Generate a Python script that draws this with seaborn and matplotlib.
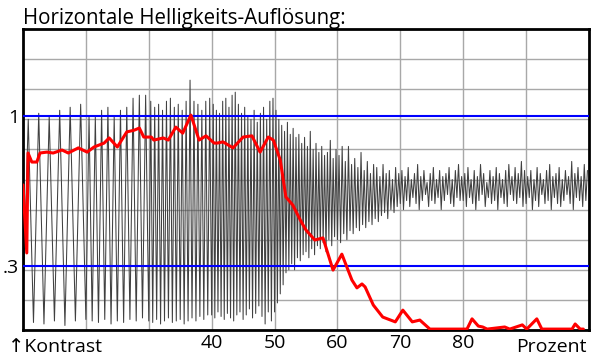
import numpy as np
import matplotlib
matplotlib.use("Agg")
import matplotlib.pyplot as plt
import seaborn as sns

# y axis is in grid units (0 = bottom frame, 10 = top frame)
segment_edges = [10, 20, 30, 40, 50, 60, 70, 80, 90, 100]
cycles_per_segment = [6, 10, 16, 20, 22, 20, 20, 20, 20]

gray_tops = [
    7.0, 7.2, 7.1, 7.3, 7.4, 7.5,
    7.1, 7.1, 7.3, 7.4, 7.1, 7.3, 7.4, 7.7, 7.8, 7.8,
    7.6, 7.4, 7.5, 7.3, 7.6, 7.7, 7.4, 7.5, 7.3, 7.6, 8.3, 7.6, 7.5, 7.3, 7.6, 7.7,
    7.5, 7.3, 7.2, 7.6, 7.7, 7.4, 7.8, 7.9, 7.5, 7.2, 7.4, 7.1, 7.0, 7.3, 6.9, 7.2, 7.4, 7.0, 7.6, 7.7,
    7.3, 7.0, 6.8, 6.6, 6.9, 6.5, 6.7, 6.4, 6.5, 6.2, 6.4, 6.1, 6.6, 6.0, 6.2, 5.9, 6.1, 5.8, 5.9, 6.3, 5.7, 6.0,
    5.8, 6.1, 5.6, 6.1, 5.5, 5.7, 5.4, 5.9, 5.3, 5.6, 5.2, 5.5, 5.4, 5.1, 5.5, 5.2, 5.3, 5.0, 5.4, 5.2,
    5.3, 5.1, 5.4, 5.0, 5.2, 5.5, 5.1, 5.3, 4.9, 5.2, 5.4, 5.0, 5.3, 5.1, 5.2, 5.4, 5.0, 5.3, 5.5, 5.1,
    5.2, 5.4, 5.0, 5.3, 5.1, 5.5, 5.2, 4.9, 5.3, 5.1, 5.4, 5.2, 5.0, 5.3, 5.5, 5.1, 5.4, 5.2, 5.6, 5.3,
    5.1, 5.3, 5.0, 5.4, 5.2, 5.0, 5.3, 5.5, 5.1, 5.2, 5.4, 5.0, 5.3, 5.1, 5.6, 5.2, 5.4, 5.1, 5.5, 5.3,
]
gray_bottoms = [
    0.9, 0.25, 0.2, 0.3, 0.15, 0.3,
    0.35, 0.3, 0.25, 0.35, 0.2, 0.3, 0.25, 0.35, 0.3, 0.4,
    0.3, 0.25, 0.35, 0.2, 0.3, 0.4, 0.25, 0.3, 0.35, 0.2, 0.3, 0.4, 0.3, 0.45, 0.35, 0.5,
    0.5, 0.4, 0.6, 0.45, 0.35, 0.55, 0.4, 0.3, 0.5, 0.6, 0.35, 0.5, 0.7, 0.4, 0.55, 0.8, 0.45, 0.2, 0.6, 0.3,
    0.6, 0.9, 1.2, 1.5, 1.9, 2.0, 2.2, 2.0, 2.4, 2.3, 2.5, 2.6, 2.4, 2.7, 2.5, 2.8, 2.7, 2.9, 2.6, 3.0, 2.8, 3.1,
    3.0, 2.9, 3.2, 3.0, 3.3, 3.2, 3.4, 3.3, 3.5, 3.4, 3.6, 3.5, 3.7, 3.6, 3.8, 3.9, 3.7, 4.0, 3.9, 4.1,
    4.2, 4.0, 4.3, 4.1, 4.4, 4.2, 4.0, 4.3, 4.5, 4.1, 4.3, 4.2, 4.4, 4.0, 4.3, 4.5, 4.2, 4.1, 4.4, 4.3,
    4.3, 4.1, 4.4, 4.2, 4.0, 4.3, 4.5, 4.1, 4.4, 4.2, 4.3, 4.0, 4.4, 4.2, 4.1, 4.5, 4.3, 4.2, 4.4, 4.1,
    4.2, 4.4, 4.0, 4.3, 4.1, 4.5, 4.2, 4.3, 4.0, 4.4, 4.2, 4.1, 4.3, 4.5, 4.2, 4.0, 4.4, 4.3, 4.1, 4.3,
]

red_x = [10.0, 10.6, 10.8, 11.4, 12.2, 12.7, 13.8, 14.8, 16.2, 17.2, 18.8, 20.2, 21.3, 22.9,
         23.7, 25.0, 26.5, 27.7, 28.5, 29.2, 30.4, 30.8, 32.3, 33.1, 34.3, 35.4, 36.7, 38.0,
         39.1, 40.4, 40.9, 41.8, 43.4, 45.0, 46.4, 47.7, 49.0, 49.8, 50.9, 51.8, 52.9, 54.1,
         55.0, 56.4, 57.7, 59.3, 60.7, 62.3, 63.1, 63.9, 64.4, 65.7, 67.2, 69.2, 70.4, 71.9,
         73.1, 74.7, 80.6, 81.4, 82.4, 83.1, 83.8, 86.6, 87.4, 89.4, 90.1, 91.7, 92.5, 97.3,
         97.8, 98.6, 99.1]
red_y = [4.82, 2.56, 5.88, 5.58, 5.58, 5.88, 5.91, 5.88, 5.98, 5.88, 6.05, 5.91, 6.08, 6.21,
         6.38, 6.08, 6.58, 6.64, 6.71, 6.41, 6.41, 6.31, 6.38, 6.31, 6.74, 6.54, 7.14, 6.31,
         6.45, 6.21, 6.21, 6.25, 6.05, 6.41, 6.45, 5.91, 6.41, 6.31, 5.65, 4.42, 4.15, 3.65,
         3.32, 2.99, 3.06, 1.99, 2.52, 1.66, 1.40, 1.53, 1.43, 0.83, 0.43, 0.27, 0.66, 0.27,
         0.33, 0.03, 0.03, 0.37, 0.13, 0.10, 0.03, 0.10, 0.03, 0.17, 0.03, 0.37, 0.03, 0.03,
         0.20, 0.03, 0.03]

ref_levels = [7.11, 2.13]
ref_labels = ["1", ".3"]
grid_x = [20, 30, 40, 50, 60, 70, 80, 90]
x_labels = ["", "", "40", "50", "60", "70", "80", ""]

# build zigzag of the gray sweep from per-cycle extremes
gx, gy = [], []
j = 0
for k, n in enumerate(cycles_per_segment):
    a, b = segment_edges[k], segment_edges[k + 1]
    period = (b - a) / n
    for i in range(n):
        gx += [a + i * period, a + (i + 0.5) * period]
        gy += [gray_bottoms[j], gray_tops[j]]
        j += 1

sns.set_style("white")
plt.rcParams["font.family"] = ["Open Sans", "DejaVu Sans"]
plt.rcParams["text.color"] = "black"
plt.rcParams["xtick.color"] = "black"
plt.rcParams["ytick.color"] = "black"

fig = plt.figure(figsize=(6, 3.64), dpi=100)
ax = fig.add_axes([23 / 600, 1 - 330 / 364, 566 / 600, 301 / 364])

sns.lineplot(x=gx, y=gy, color="#404040", lw=0.75, ax=ax, estimator=None, sort=False, zorder=2)
for lvl in ref_levels:
    ax.axhline(lvl, color="#0000ff", lw=1.5, zorder=3)
sns.lineplot(x=red_x, y=red_y, color="#ff0000", lw=2.2, ax=ax, estimator=None, sort=False, zorder=4)

ax.set_xlim(10, 100)
ax.set_ylim(0, 10)
ax.set_xticks(grid_x)
ax.set_xticklabels(x_labels, fontsize=14, color="black")
ax.set_yticks(ref_levels)
ax.set_yticklabels(ref_labels, fontsize=14, color="black")
ax.set_yticks(range(1, 10), minor=True)
ax.tick_params(which="both", length=0)
ax.tick_params(axis="x", pad=3)
ax.tick_params(axis="y", pad=3)
ax.grid(axis="x", which="major", color="#a8a8a8", lw=1.0)
ax.grid(axis="y", which="minor", color="#a8a8a8", lw=1.0)
ax.grid(axis="y", which="major", visible=False)
ax.set_axisbelow(True)
for s in ax.spines.values():
    s.set_color("black")
    s.set_linewidth(2)

fig.text(23 / 600, 1 - 24 / 364, "Horizontale Helligkeits-Auflösung:", fontsize=14.8, va="baseline", color="black")
fig.text(8 / 600, 1 - 352 / 364, "\u2191Kontrast", fontsize=14, va="baseline", color="black")
fig.text(587 / 600, 1 - 352 / 364, "Prozent", fontsize=14, va="baseline", ha="right", color="black")

fig.savefig("out.png", dpi=100)
